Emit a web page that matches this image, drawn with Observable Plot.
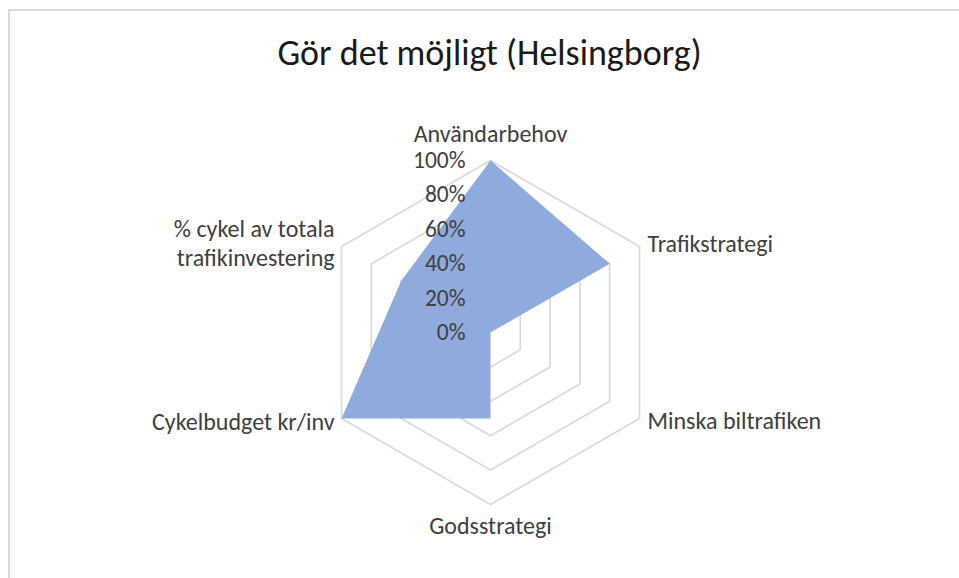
<!DOCTYPE html>
<html><head><meta charset="utf-8">
<script src="https://cdn.jsdelivr.net/npm/d3@7"></script>
<script src="https://cdn.jsdelivr.net/npm/@observablehq/plot@0.6"></script>
<style>
body{margin:0;background:#fff;font-family:Carlito,Calibri,"Open Sans",sans-serif;}
#wrap{position:relative;width:959px;height:578px;overflow:hidden;background:#fff}
#frame{position:absolute;left:8px;top:9px;width:1000px;height:1000px;border-left:2px solid #d9d9d9;border-top:2px solid #d9d9d9}
#title{position:absolute;top:35px;left:10px;width:959px;text-align:center;font-size:36px;line-height:36px;color:#1a1a1a;white-space:nowrap}
#chart{position:absolute;left:0;top:100px}
</style></head>
<body><div id="wrap"><div id="frame"></div><div id="title">Gör det möjligt (Helsingborg)</div><div id="chart"></div></div>
<script>
const categories = ["Användarbehov","Trafikstrategi","Minska biltrafiken","Godsstrategi","Cykelbudget kr/inv","% cykel av totala\ntrafikinvestering"];
const values = [1.0, 0.8, 0.0, 0.5, 1.0, 0.6];
const gridLevels = [0.2, 0.4, 0.6, 0.8, 1.0];
const tickValues = [0, 0.2, 0.4, 0.6, 0.8, 1.0];
const tickLabels = ["0%", "20%", "40%", "60%", "80%", "100%"];

const n = categories.length;
const ang = i => i * 2 * Math.PI / n;
const px = (r, i) => r * Math.sin(ang(i));
const py = (r, i) => r * Math.cos(ang(i));

const grid = gridLevels.flatMap(l => d3.range(n + 1).map(i => ({level: l, x: px(l, i % n), y: py(l, i % n)})));
const shape = values.map((v, i) => ({x: px(v, i), y: py(v, i)}));
const ticks = tickValues.map((v, i) => ({y: v, label: tickLabels[i]}));
// label offsets (pixels) per axis direction
const off = [[0,-28],[8,-4],[8,1],[0,20],[-7,2],[-7,-4]];
const anchors = ["middle","start","start","middle","end","end"];
const labels = categories.map((c, i) => ({name: c, x: px(1, i), y: py(1, i), i}));

const W = 959, H = 478, cx = 490, cy = 232, R = 172;
const font = 'Carlito, Calibri, "Open Sans", sans-serif';
const labelMarks = labels.map((d, i) => Plot.text([d], {
  x: "x", y: "y", text: "name", textAnchor: anchors[i], lineAnchor: "middle",
  dx: off[i][0], dy: off[i][1], fontSize: 24, fill: "#404040", lineHeight: 1.17
}));
const chart = Plot.plot({
  width: W, height: H, margin: 0,
  style: {fontFamily: font, background: "transparent"},
  x: {domain: [-cx / R, (W - cx) / R], axis: null},
  y: {domain: [(cy - H) / R, cy / R], axis: null},
  marks: [
    Plot.line(grid, {x: "x", y: "y", z: "level", stroke: "#d9d9d9", strokeWidth: 1.75, curve: "linear"}),
    Plot.line(shape.concat([shape[0]]), {x: "x", y: "y", fill: "#8faadc", stroke: "none"}),
    ...labelMarks,
    Plot.text(ticks, {x: () => 0, y: "y", text: "label", textAnchor: "end", lineAnchor: "middle", dx: -25, fontSize: 23.5, fill: "#404040"})
  ]
});
document.getElementById("chart").appendChild(chart);
</script></body></html>
